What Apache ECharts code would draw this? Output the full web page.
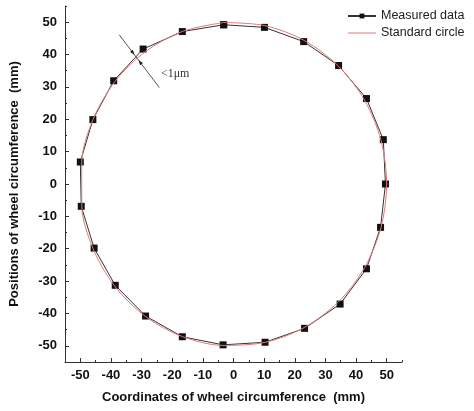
<!DOCTYPE html>
<html><head><meta charset="utf-8">
<script src="https://cdn.jsdelivr.net/npm/echarts@6/dist/echarts.min.js"></script>
<style>html,body{margin:0;padding:0;background:#fff}#c{width:474px;height:411px}</style>
</head><body><div id="c"></div>
<script>
// Measured data (mm), clockwise from top
const measuredX = [-3.2, 10.1, 22.9, 34.3, 43.4, 48.9, 49.6, 48.0, 43.4, 34.8, 23.2, 10.3, -3.4, -16.7, -28.7, -38.6, -45.5, -49.7, -50.0, -45.9, -39.1, -29.5, -16.7, -3.2];
const measuredY = [49.2, 48.4, 44.0, 36.6, 26.4, 13.7, 0.0, -13.4, -26.2, -37.1, -44.6, -48.9, -49.7, -47.2, -40.8, -31.3, -19.8, -6.9, 6.8, 19.9, 31.9, 41.7, 47.1, 49.2];
// Standard circle (mm)
const standardX = [-3.25, 10.21, 23.08, 34.19, 42.72, 48.15, 50.0, 48.15, 42.80, 34.21, 23.07, 10.31, -3.41, -16.68, -28.77, -38.83, -45.85, -49.52, -49.54, -45.87, -38.74, -28.88, -16.71, -3.25];
const standardY = [49.90, 48.95, 44.35, 36.48, 25.99, 13.49, 0.0, -13.44, -25.84, -36.47, -44.36, -48.93, -49.88, -47.14, -40.90, -31.49, -19.95, -6.87, 6.74, 19.89, 31.61, 40.82, 47.13, 49.90];
const tickLabels = [-50, -40, -30, -20, -10, 0, 10, 20, 30, 40, 50];
const minorTicks = [-55, -50, -45, -40, -35, -30, -25, -20, -15, -10, -5, 0, 5, 10, 15, 20, 25, 30, 35, 40, 45, 50, 55];
// annotation (data coords)
const annoLine = [[-37.3, 46.1], [-24.2, 29.8]];
const annoText = '<1μm';
const annoTextPos = [-23.7, 33.9];

const measured = measuredX.map((x, i) => [x, measuredY[i]]);
const standard = standardX.map((x, i) => [x, standardY[i]]);

const chart = echarts.init(document.getElementById('c'));
const font = 'Liberation Sans, Arial, sans-serif';
function mainAxis(isX) {
  return {
    type: 'value', min: -55, max: 55,
    axisLine: { show: true, onZero: false, lineStyle: { color: '#333', width: 1 } },
    axisTick: { show: true, inside: true, length: 4, customValues: tickLabels, lineStyle: { color: '#333' } },
    axisLabel: { customValues: tickLabels, fontFamily: font, fontWeight: 'bold', fontSize: 13, color: '#111', margin: isX ? 7 : 8 },
    splitLine: { show: false },
    name: isX ? 'Coordinates of wheel circumference  (mm)' : 'Positions of wheel circumference  (mm)',
    nameLocation: 'middle',
    nameGap: isX ? 29 : 44,
    nameTextStyle: { fontFamily: font, fontWeight: 'bold', fontSize: 13, color: '#111' }
  };
}
function minorAxis(isX) {
  return {
    type: 'value', min: -55, max: 55,
    position: isX ? 'bottom' : 'left',
    axisLine: { show: false, onZero: false },
    axisTick: { show: true, inside: true, length: 2, customValues: minorTicks, lineStyle: { color: '#333' } },
    axisLabel: { show: false },
    splitLine: { show: false }
  };
}
chart.setOption({
  animation: false,
  grid: { left: 65, right: 72, top: 6, bottom: 49 },
  xAxis: [mainAxis(true), minorAxis(true)],
  yAxis: [mainAxis(false), minorAxis(false)],
  legend: {
    orient: 'vertical', left: 342, top: 4, itemGap: 3, itemWidth: 28, itemHeight: 6,
    textStyle: { fontFamily: font, fontSize: 12.5, color: '#222', lineHeight: 14, height: 14 },
    data: [
      { name: 'Measured data' },
      { name: 'Standard circle', icon: 'path://M0,0L28,0L28,1L0,1Z', itemStyle: { color: '#e07a7a' } }
    ]
  },
  series: [
    { name: 'Measured data', type: 'line', data: measured, symbol: 'rect', symbolSize: 7,
      itemStyle: { color: '#111' }, lineStyle: { color: '#333', width: 1 }, z: 2 },
    { name: 'Standard circle', type: 'line', data: standard, symbol: 'none', smooth: 0.3,
      itemStyle: { color: '#e07a7a' }, lineStyle: { color: '#e07a7a', width: 1 }, z: 3 }
  ]
});

function px(p) { return chart.convertToPixel({ xAxisIndex: 0, yAxisIndex: 0 }, p); }
const a = px(annoLine[0]), b = px(annoLine[1]);
const dx = b[0] - a[0], dy = b[1] - a[1], L = Math.hypot(dx, dy);
const ux = dx / L, uy = dy / L, nx = -uy, ny = ux;
// arrow tips along the line, either side of the curve crossing
const t1 = 0.38, t2 = 0.48;
const tip1 = [a[0] + dx * t1, a[1] + dy * t1];
const tip2 = [a[0] + dx * t2, a[1] + dy * t2];
function arrow(tip, dir) {
  const l = 5, w = 1.8;
  const bx = tip[0] - dir * ux * l, by = tip[1] - dir * uy * l;
  return { type: 'polygon', shape: { points: [tip, [bx + nx * w, by + ny * w], [bx - nx * w, by - ny * w]] }, style: { fill: '#222' }, z: 100 };
}
const tp = px(annoTextPos);
chart.setOption({
  graphic: [
    { type: 'line', shape: { x1: a[0], y1: a[1], x2: b[0], y2: b[1] }, style: { stroke: '#555', lineWidth: 1 }, z: 100 },
    arrow(tip1, 1), arrow(tip2, -1),
    { type: 'text', x: tp[0], y: tp[1], style: { text: annoText, fontFamily: 'Liberation Serif, serif', fontSize: 12, fill: '#333', verticalAlign: 'middle' }, z: 100 }
  ]
});
</script></body></html>
